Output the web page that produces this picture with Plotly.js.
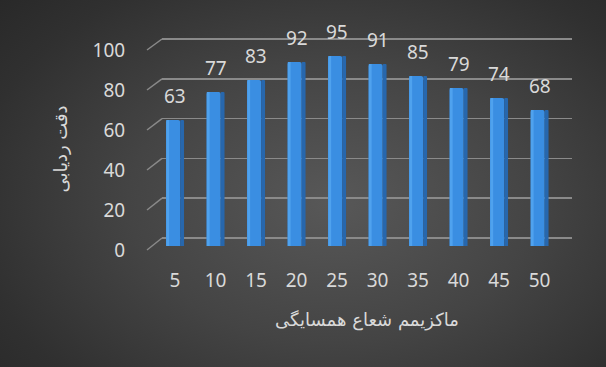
<!DOCTYPE html>
<html>
<head>
<meta charset="utf-8">
<script src="https://cdn.plot.ly/plotly-3.0.1.min.js"></script>
<style>
  html, body { margin: 0; padding: 0; background: #ffffff; }
  #chart {
    width: 606px; height: 367px;
    background: radial-gradient(ellipse 75% 85% at 55% 55%, #585858 0%, #444444 45%, #303030 80%, #282828 100%);
  }
</style>
</head>
<body>
<div id="chart"></div>
<script>
// ---- data ----
const categories = ['5', '10', '15', '20', '25', '30', '35', '40', '45', '50'];
const accuracy = [63, 77, 83, 92, 95, 91, 85, 79, 74, 68];
const yTicks = [0, 20, 40, 60, 80, 100];
const xTitle = 'ماکزیمم شعاع همسایگی';
const yTitle = 'دقت ردیابی';

// ---- layout geometry ----
const W = 606, H = 367;
const M = { l: 162, r: 34, t: 36, b: 105 };
const plotW = W - M.l - M.r;
const barRange = [-8, 105];        // plane where bars stand
const backRange = [-12.06, 101.5]; // back wall gridlines
const frontRange = [-6, 107];      // front edge (tick labels)
const xRange = [-0.321, 9.802];

const txt = '#d9d9d9';
const gridColor = '#8a8a8a';

function frac(v, r) { return (v - r[0]) / (r[1] - r[0]); }

const traces = [
  { type: 'bar', x: categories, y: accuracy, width: 0.35, offset: -0.222,
    marker: { color: '#3a8ee2', cornerradius: 2, line: { width: 0 } },
    xaxis: 'x', yaxis: 'y', hoverinfo: 'skip', showlegend: false },
  { type: 'bar', x: categories, y: accuracy, width: 0.07, offset: -0.215,
    marker: { color: '#4fa2ee', line: { width: 0 } },
    xaxis: 'x', yaxis: 'y', hoverinfo: 'skip', showlegend: false },
  { type: 'bar', x: categories, y: accuracy, width: 0.095, offset: 0.128,
    marker: { color: '#2767ad', cornerradius: 2, line: { width: 0 } },
    xaxis: 'x', yaxis: 'y', hoverinfo: 'skip', showlegend: false },
  // invisible traces to activate the other y axes
  { type: 'scatter', x: categories, y: accuracy, mode: 'none', xaxis: 'x', yaxis: 'y2',
    hoverinfo: 'skip', showlegend: false },
  { type: 'scatter', x: categories, y: accuracy, mode: 'none', xaxis: 'x', yaxis: 'y3',
    hoverinfo: 'skip', showlegend: false }
];

// data labels (x given as category index)
const annotations = accuracy.map((v, i) => ({
  x: i, y: v, xref: 'x', yref: 'y',
  text: String(v), showarrow: false, yanchor: 'middle', yshift: 24,
  font: { family: 'Noto Sans, sans-serif', size: 19, color: txt }
}));

// diagonal connectors from front edge to back wall
const frontX = (147 - M.l) / plotW;
const shapes = yTicks.map(v => ({
  type: 'line', xref: 'paper', yref: 'paper',
  x0: frontX, y0: frac(v, frontRange),
  x1: 0, y1: frac(v, backRange),
  line: { color: gridColor, width: 1.5 }
}));

const layout = {
  width: W, height: H,
  margin: M,
  paper_bgcolor: 'rgba(0,0,0,0)',
  plot_bgcolor: 'rgba(0,0,0,0)',
  barmode: 'overlay',
  showlegend: false,
  font: { family: 'Noto Sans, sans-serif', color: txt },
  xaxis: {
    type: 'category', range: xRange, showgrid: false, zeroline: false, showline: false,
    ticks: 'outside', ticklen: 1, tickcolor: 'rgba(0,0,0,0)',
    tickfont: { size: 19, color: txt },
    title: { text: xTitle, standoff: 21,
      font: { family: 'DejaVu Sans, sans-serif', size: 18, color: txt } }
  },
  yaxis: {
    range: barRange, showgrid: false, zeroline: false, showline: false,
    showticklabels: false, ticks: ''
  },
  yaxis2: {
    range: backRange, overlaying: 'y', anchor: 'x', side: 'left',
    tickvals: yTicks, showgrid: true, gridcolor: gridColor, gridwidth: 1.5,
    zeroline: false, showline: false, showticklabels: false, ticks: ''
  },
  yaxis3: {
    range: frontRange, overlaying: 'y', anchor: 'x', side: 'left',
    tickvals: yTicks, showgrid: false, zeroline: false, showline: false,
    ticks: 'outside', ticklen: 32, tickcolor: 'rgba(0,0,0,0)',
    tickfont: { size: 19, color: txt },
    title: { text: yTitle, standoff: 20,
      font: { family: 'DejaVu Sans, sans-serif', size: 18, color: txt } }
  },
  shapes: shapes,
  annotations: annotations
};

Plotly.newPlot('chart', traces, layout, { displayModeBar: false, staticPlot: true });
</script>
</body>
</html>
